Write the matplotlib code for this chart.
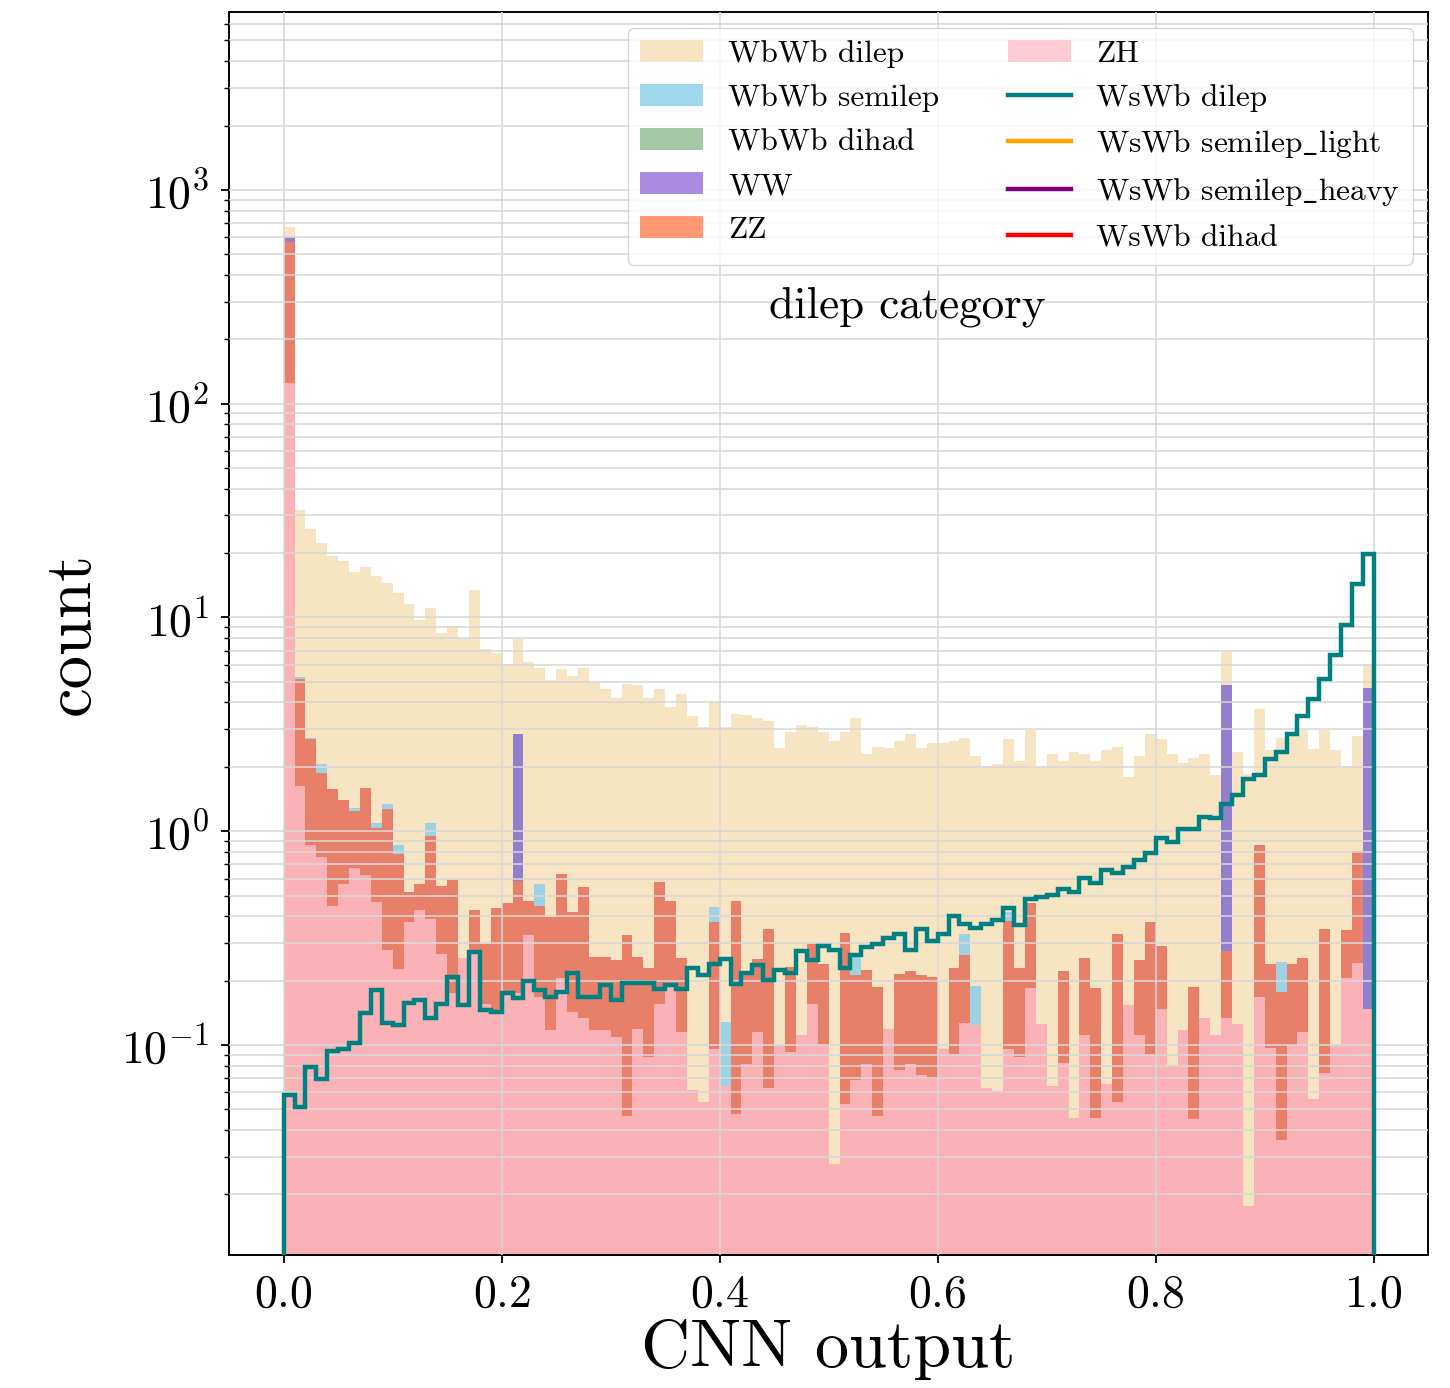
import numpy as np
import matplotlib
matplotlib.use("Agg")
import matplotlib.pyplot as plt
from matplotlib.lines import Line2D

plt.rcParams['font.family'] = 'serif'
plt.rcParams['font.serif'] = ['cmr10', 'DejaVu Serif']
plt.rcParams['mathtext.fontset'] = 'cm'
plt.rcParams['axes.formatter.use_mathtext'] = True
plt.rcParams['axes.unicode_minus'] = False

# 100 bins of CNN output in [0, 1]
edges = np.linspace(0, 1, 101)

zh = [124.5, 1.63, 0.86, 0.753, 0.447, 0.565, 0.669, 0.623, 0.464, 0.279,
      0.227, 0.374, 0.427, 0.390, 0.265, 0.174, 0.254, 0.277, 0.156, 0.140,
      0.177, 0.174, 0.326, 0.168, 0.117, 0.205, 0.143, 0.133, 0.117, 0.117,
      0.109, 0.0464, 0.119, 0.0879, 0.156, 0.187, 0.115, 0.0614, 0.054, 0.0962,
      0.064, 0.0474, 0.0812, 0.115, 0.0632, 0.0986, 0.0927, 0.111, 0.156, 0.0997,
      0.0277, 0.0532, 0.0684, 0.0812, 0.0464, 0.119, 0.0767, 0.0812, 0.0721, 0.0696,
      0.0962, 0.0911, 0.126, 0.124, 0.0629, 0.0609, 0.0962, 0.0879, 0.184, 0.125,
      0.0643, 0.0826, 0.0456, 0.111, 0.0456, 0.0655, 0.054, 0.153, 0.111, 0.0895,
      0.148, 0.0804, 0.117, 0.0448, 0.134, 0.111, 0.134, 0.125, 0.0176, 0.167,
      0.0968, 0.0361, 0.100, 0.115, 0.0561, 0.074, 0.100, 0.205, 0.242, 0.148]

zz = [447.5, 3.50, 1.83, 1.11, 1.12, 0.835, 0.571, 0.977, 0.566, 0.991,
      0.553, 0.146, 0.136, 0.558, 0.288, 0.42, 0, 0.15, 0.142, 0.295,
      0.285, 0.412, 0.146, 0.278, 0.28, 0.424, 0.276, 0.416, 0.141, 0.141,
      0.14, 0.28, 0.139, 0.142, 0.423, 0.285, 0.139, 0, 0, 0.28,
      0, 0.425, 0.131, 0.136, 0.284, 0, 0.14, 0, 0.14, 0.14,
      0, 0.279, 0.144, 0.143, 0.141, 0, 0.139, 0.14, 0.141, 0.138,
      0, 0.139, 0.137, 0, 0, 0, 0.283, 0.142, 0.278, 0,
      0, 0.138, 0, 0.143, 0.14, 0, 0.278, 0, 0.138, 0.285,
      0.142, 0, 0, 0.141, 0, 0, 0.141, 0, 0, 0.693,
      0.143, 0.141, 0.14, 0.139, 0, 0.276, 0, 0.139, 0.567, 0]

ww = [0.0] * 100
ww[0], ww[21], ww[86], ww[99] = 32.0, 2.25, 4.55, 4.55

wbwb_dihad = [0.0] * 100

wbwb_semilep = [0.0] * 100
for i, v in {1: 0.14, 2: 0.05, 3: 0.19, 6: 0.05, 8: 0.06, 9: 0.07, 10: 0.077,
             13: 0.142, 23: 0.123, 39: 0.066, 40: 0.064, 52: 0.046, 62: 0.069,
             63: 0.065, 66: 0.04, 91: 0.068}.items():
    wbwb_semilep[i] = v

wbwb_dilep = [64.0, 26.7, 23.2, 20.15, 17.83, 16.9, 15.0, 15.7, 14.6, 13.2,
              12.2, 11.0, 9.12, 10.0, 7.92, 8.51, 7.75, 13.0, 6.78, 6.40,
              5.61, 5.08, 5.71, 5.26, 4.71, 5.08, 4.88, 5.28, 4.74, 4.37,
              3.96, 4.58, 4.55, 3.98, 4.04, 3.35, 4.11, 3.40, 3.03, 3.57,
              2.95, 3.06, 3.28, 3.14, 2.92, 2.34, 2.67, 3.02, 2.78, 2.66,
              2.62, 2.57, 3.13, 2.08, 2.29, 2.32, 2.43, 2.62, 2.23, 2.37,
              2.48, 2.42, 2.41, 2.07, 1.95, 1.99, 2.27, 1.90, 2.50, 1.875,
              2.24, 1.91, 2.30, 2.05, 1.94, 2.32, 2.15, 1.64, 2.01, 2.47,
              2.40, 2.22, 1.97, 2.02, 2.17, 1.72, 2.08, 2.215, 1.84, 2.86,
              2.15, 2.485, 2.57, 2.71, 2.38, 2.61, 2.29, 1.67, 1.98, 1.33]

wswb_dilep = [0.058, 0.0513, 0.0789, 0.0696, 0.0937, 0.0962, 0.102, 0.141, 0.180, 0.127,
              0.124, 0.157, 0.162, 0.133, 0.155, 0.208, 0.153, 0.272, 0.145, 0.143,
              0.174, 0.165, 0.199, 0.180, 0.167, 0.177, 0.216, 0.167, 0.167, 0.190,
              0.163, 0.194, 0.194, 0.194, 0.182, 0.190, 0.182, 0.228, 0.212, 0.240,
              0.251, 0.192, 0.216, 0.236, 0.201, 0.225, 0.216, 0.275, 0.249, 0.290,
              0.277, 0.230, 0.263, 0.286, 0.298, 0.315, 0.332, 0.279, 0.347, 0.307,
              0.330, 0.400, 0.367, 0.351, 0.367, 0.386, 0.435, 0.363, 0.479, 0.490,
              0.502, 0.539, 0.520, 0.607, 0.573, 0.657, 0.640, 0.681, 0.732, 0.789,
              0.924, 0.891, 1.02, 1.02, 1.17, 1.15, 1.34, 1.47, 1.75, 1.83,
              2.17, 2.35, 2.84, 3.45, 4.13, 5.13, 6.66, 9.2, 14.4, 19.9]

# stacking order: bottom to top
stack = [('ZH', zh, 'pink'),
         ('ZZ', zz, 'coral'),
         ('WW', ww, 'mediumpurple'),
         ('WbWb dihad', wbwb_dihad, 'darkseagreen'),
         ('WbWb semilep', wbwb_semilep, 'skyblue'),
         ('WbWb dilep', wbwb_dilep, 'wheat')]

signal_lines = [('WsWb dilep', 'teal'),
                ('WsWb semilep$\\_$light', 'orange'),
                ('WsWb semilep$\\_$heavy', 'purple'),
                ('WsWb dihad', 'red')]

fig = plt.figure(figsize=(14.5, 13.88), dpi=100)
ax = fig.add_axes([0.158, 0.0958, 0.827, 0.8956])

cum = np.cumsum([np.array(s[1]) for s in stack], axis=0)
base = 1e-4
handles = []
# draw the cumulative totals from 0, top layer first, so lower ones overlap
for k in range(len(stack) - 1, -1, -1):
    label, _, color = stack[k]
    h = ax.stairs(cum[k], edges, baseline=base, fill=True, color=color,
                  alpha=0.8, label=label, lw=0)
    handles.append(h)

ax.stairs(wswb_dilep, edges, baseline=base, color='teal', lw=3.2, zorder=3)
for label, color in signal_lines:
    handles.append(Line2D([], [], color=color, lw=3.2, label=label))

ax.set_yscale('log')
ax.set_xlim(-0.05, 1.05)
ax.set_ylim(0.0104, 6800)

ax.set_axisbelow(False)
ax.grid(True, which='both', color='#d8d8d8', lw=1.4, alpha=0.8)

ax.tick_params(which='major', labelsize=33, length=6, width=1.3, pad=8)
ax.tick_params(which='minor', length=3.5, width=1.0)
for sp in ax.spines.values():
    sp.set_linewidth(1.4)

ax.set_xlabel('CNN output', fontsize=49, labelpad=2)
ax.set_ylabel('count', fontsize=48, labelpad=14)

ax.text(0.5655, 0.7627, 'dilep category', transform=ax.transAxes,
        fontsize=32.5, ha='center', va='center')

ax.legend(handles=handles, ncol=2, loc='upper right', fontsize=22.6,
          columnspacing=2.2, labelspacing=0.51)

fig.savefig('out.png', dpi=100)
